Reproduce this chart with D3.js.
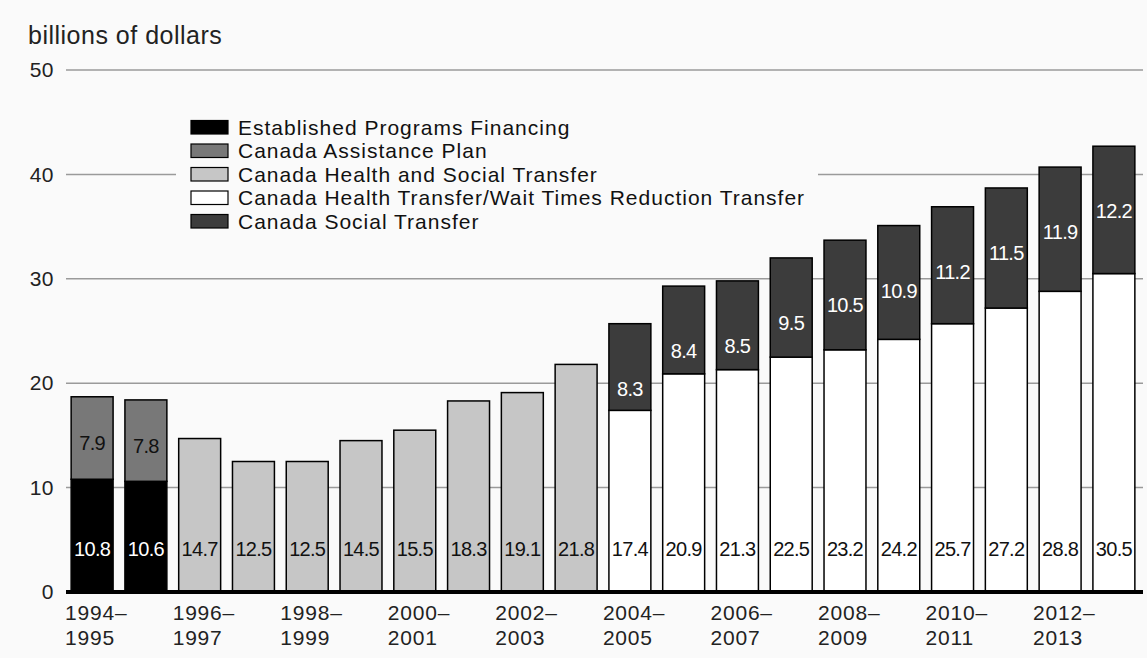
<!DOCTYPE html>
<html>
<head>
<meta charset="utf-8">
<script src="https://cdn.jsdelivr.net/npm/d3@7/dist/d3.min.js"></script>
<style>
  body { margin: 0; background: #fafafa; }
  svg { display: block; font-family: "Liberation Sans", Arial, sans-serif; }
</style>
</head>
<body>
<div id="chart"></div>
<script>
// fiscal years, one bar each
const years = ["1994–1995", "1995–1996", "1996–1997", "1997–1998", "1998–1999",
  "1999–2000", "2000–2001", "2001–2002", "2002–2003", "2003–2004", "2004–2005",
  "2005–2006", "2006–2007", "2007–2008", "2008–2009", "2009–2010", "2010–2011",
  "2011–2012", "2012–2013", "2013–2014"];

// series values, billions of dollars (0 = not present that year)
const epf  = [10.8, 10.6, 0, 0, 0, 0, 0, 0, 0, 0, 0, 0, 0, 0, 0, 0, 0, 0, 0, 0];
const cap  = [7.9, 7.8, 0, 0, 0, 0, 0, 0, 0, 0, 0, 0, 0, 0, 0, 0, 0, 0, 0, 0];
const chst = [0, 0, 14.7, 12.5, 12.5, 14.5, 15.5, 18.3, 19.1, 21.8, 0, 0, 0, 0, 0, 0, 0, 0, 0, 0];
const cht  = [0, 0, 0, 0, 0, 0, 0, 0, 0, 0, 17.4, 20.9, 21.3, 22.5, 23.2, 24.2, 25.7, 27.2, 28.8, 30.5];
const cst  = [0, 0, 0, 0, 0, 0, 0, 0, 0, 0, 8.3, 8.4, 8.5, 9.5, 10.5, 10.9, 11.2, 11.5, 11.9, 12.2];

const yTicks = [0, 10, 20, 30, 40, 50];

const seriesNames = ["Established Programs Financing", "Canada Assistance Plan",
  "Canada Health and Social Transfer", "Canada Health Transfer/Wait Times Reduction Transfer",
  "Canada Social Transfer"];
const seriesKeys = ["epf", "cap", "chst", "cht", "cst"];
const colors = ["#000000", "#787878", "#c6c6c6", "#ffffff", "#3c3c3c"];
const labelColors = ["#ffffff", "#111111", "#111111", "#111111", "#ffffff"];

const width = 1147, height = 658;

const rows = years.map((yr, i) => ({
  year: yr, i: i, epf: epf[i], cap: cap[i], chst: chst[i], cht: cht[i], cst: cst[i]
}));

const stack = d3.stack().keys(seriesKeys)(rows);

const svg = d3.select("#chart").append("svg")
  .attr("width", width)
  .attr("height", height);

svg.append("rect").attr("width", width).attr("height", height).attr("fill", "#fafafa");

const x = d3.scaleBand()
  .domain(d3.range(years.length))
  .range([62, 1144])
  .paddingInner(0.22)
  .paddingOuter(0.17);

const y = d3.scaleLinear().domain([0, 50]).range([592, 70]);

// y tick labels
const yAxis = d3.axisLeft(y).tickValues(yTicks).tickSize(0).tickPadding(12);
const gAxis = svg.append("g").attr("transform", "translate(54,0)").call(yAxis);
gAxis.select(".domain").remove();
gAxis.selectAll("text")
  .attr("font-size", 21)
  .attr("letter-spacing", 0.5)
  .attr("fill", "#222")
  .attr("x", 0)
  .attr("font-family", "Liberation Sans, Arial, sans-serif");

// gridlines
svg.append("g").selectAll("line")
  .data(yTicks.filter(d => d > 0))
  .join("line")
  .attr("x1", 66).attr("x2", 1143)
  .attr("y1", d => y(d)).attr("y2", d => y(d))
  .attr("stroke", "#9a9a9a")
  .attr("stroke-width", 1.5);

svg.append("text")
  .attr("x", 28).attr("y", 44)
  .attr("font-size", 25)
  .attr("letter-spacing", 0.5)
  .attr("fill", "#222")
  .text("billions of dollars");

// legend box hides the gridline behind it
svg.append("rect")
  .attr("x", 176).attr("y", 112)
  .attr("width", 642).attr("height", 120)
  .attr("fill", "#fafafa");

const legend = svg.append("g");
seriesNames.forEach((name, k) => {
  const g = legend.append("g").attr("transform", `translate(191, ${127 + k * 23.5})`);
  g.append("rect")
    .attr("x", 0).attr("y", -6.5)
    .attr("width", 37).attr("height", 13.5)
    .attr("fill", colors[k])
    .attr("stroke", "#000").attr("stroke-width", 1.2);
  g.append("text")
    .attr("x", 47).attr("y", 7.5)
    .attr("font-size", 21)
    .attr("letter-spacing", 1.0)
    .attr("fill", "#111")
    .text(name);
});

// bars
stack.forEach((layer, k) => {
  svg.append("g").selectAll("rect")
    .data(layer.filter(d => d[1] - d[0] > 0))
    .join("rect")
    .attr("x", d => x(d.data.i))
    .attr("y", d => y(d[1]))
    .attr("width", x.bandwidth())
    .attr("height", d => y(d[0]) - y(d[1]))
    .attr("fill", colors[k])
    .attr("stroke", "#000")
    .attr("stroke-width", 1.5);
});

// value labels
stack.forEach((layer, k) => {
  const key = seriesKeys[k];
  svg.append("g").selectAll("text")
    .data(layer.filter(d => d[1] - d[0] > 0))
    .join("text")
    .attr("x", d => x(d.data.i) + x.bandwidth() / 2)
    .attr("y", d => {
      if (d[0] === 0) return y(0) - 43;          // bottom segment
      if (key === "cst") return y(d[1]) + 65;    // social transfer, near top
      return y((d[0] + d[1]) / 2) + 5;
    })
    .attr("dy", "0.35em")
    .attr("text-anchor", "middle")
    .attr("font-size", 20)
    .attr("letter-spacing", -0.7)
    .attr("fill", labelColors[k])
    .text(d => d.data[key].toFixed(1));
});

// x axis baseline
svg.append("line")
  .attr("x1", 66).attr("x2", 1143)
  .attr("y1", y(0)).attr("y2", y(0))
  .attr("stroke", "#000")
  .attr("stroke-width", 4);

// x labels, every second year
const lx = d => x(d.i) + x.bandwidth() / 2 - 27;
const xl = svg.append("g").selectAll("text")
  .data(rows.filter(d => d.i % 2 === 0))
  .join("text")
  .attr("font-size", 21)
  .attr("letter-spacing", 0.8)
  .attr("fill", "#222")
  .attr("x", lx);
xl.append("tspan")
  .attr("x", lx)
  .attr("y", 620)
  .text(d => d.year.split("–")[0] + "–");
xl.append("tspan")
  .attr("x", lx)
  .attr("y", 645)
  .text(d => d.year.split("–")[1]);
</script>
</body>
</html>
